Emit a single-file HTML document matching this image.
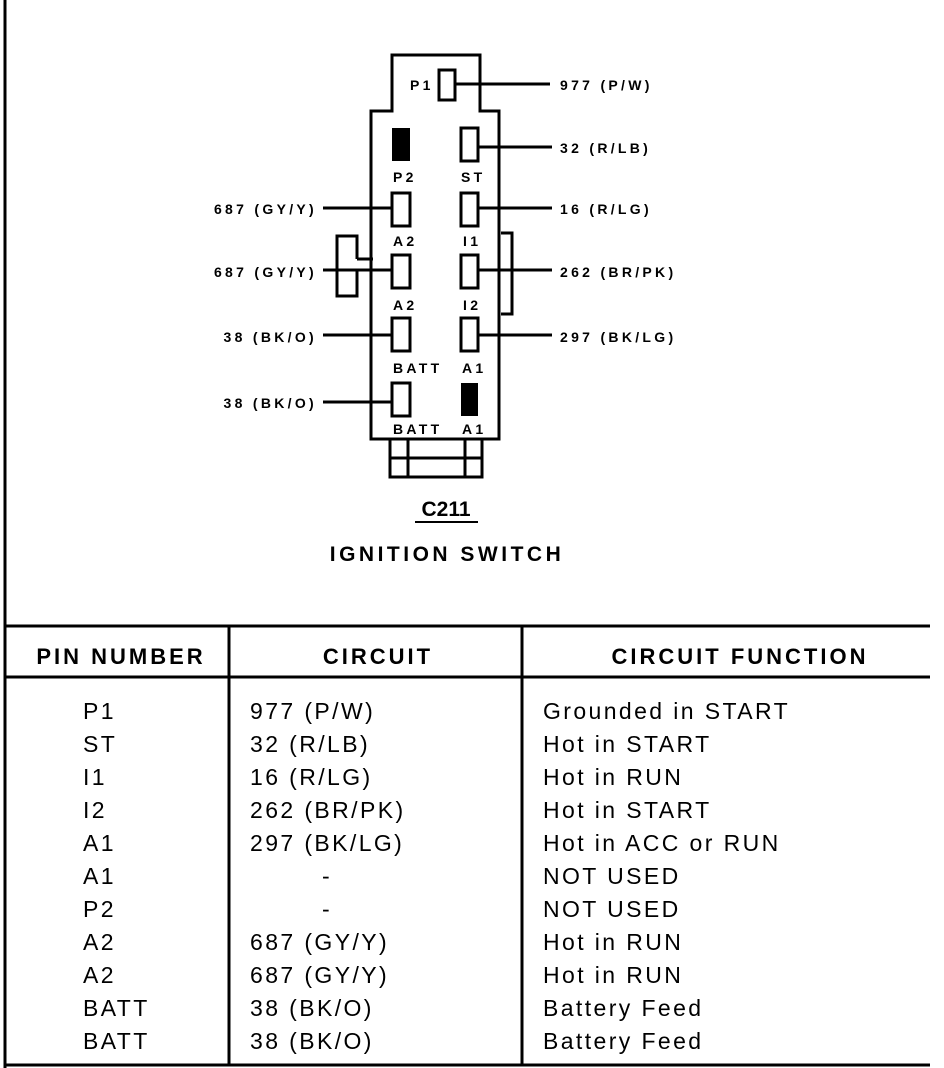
<!DOCTYPE html>
<html><head><style>
body{margin:0;background:#fff;}
svg{display:block;font-family:"Liberation Sans",Arial,sans-serif;}
</style></head><body>
<svg width="944" height="1068" viewBox="0 0 944 1068" xmlns="http://www.w3.org/2000/svg">
<g stroke="#000" fill="none" stroke-width="3">
<line x1="5" y1="0" x2="5" y2="1068"/>
<path d="M392 111 V55 H480 V111 H499 V439 H371 V111 Z"/>
<rect x="390" y="439" width="92" height="38"/>
<line x1="408" y1="439" x2="408" y2="477"/>
<line x1="465" y1="439" x2="465" y2="477"/>
<line x1="390" y1="458" x2="482" y2="458"/>
<rect x="439" y="70" width="16" height="30"/>
<rect x="461" y="128" width="17" height="33"/>
<rect x="392" y="193" width="18" height="33"/>
<rect x="461" y="193" width="17" height="33"/>
<rect x="392" y="255" width="18" height="33"/>
<rect x="461" y="255" width="17" height="33"/>
<rect x="392" y="318" width="18" height="33"/>
<rect x="461" y="318" width="17" height="33"/>
<rect x="392" y="383" width="18" height="33"/>
<line x1="455" y1="84" x2="550" y2="84"/>
<line x1="478" y1="147" x2="552" y2="147"/>
<line x1="478" y1="208" x2="552" y2="208"/>
<line x1="478" y1="270" x2="552" y2="270"/>
<line x1="478" y1="335" x2="552" y2="335"/>
<line x1="323" y1="208" x2="392" y2="208"/>
<line x1="323" y1="270" x2="392" y2="270"/>
<line x1="323" y1="335" x2="392" y2="335"/>
<line x1="323" y1="402" x2="392" y2="402"/>
<path d="M357 259 V236 H337 V296 H357 V270"/>
<path d="M357 259 H373"/>
<path d="M501 233 H512 V314 H501"/>
<line x1="5" y1="626" x2="930" y2="626"/>
<line x1="5" y1="677" x2="930" y2="677"/>
<line x1="5" y1="1065" x2="930" y2="1065"/>
<line x1="229" y1="626" x2="229" y2="1065"/>
<line x1="522" y1="626" x2="522" y2="1065"/>
<line x1="415" y1="522" x2="478" y2="522" stroke-width="2"/>
</g>
<rect x="392" y="128" width="18" height="33" fill="#000"/>
<rect x="461" y="383" width="17" height="33" fill="#000"/>
<g font-size="14" font-weight="bold" letter-spacing="3.3">
<text x="410" y="90">P1</text>
<text x="560" y="90">977 (P/W)</text>
<text x="560" y="153">32 (R/LB)</text>
<text x="560" y="214">16 (R/LG)</text>
<text x="560" y="277">262 (BR/PK)</text>
<text x="560" y="342">297 (BK/LG)</text>
<text x="317" y="214" text-anchor="end">687 (GY/Y)</text>
<text x="317" y="277" text-anchor="end">687 (GY/Y)</text>
<text x="317" y="342" text-anchor="end">38 (BK/O)</text>
<text x="317" y="408" text-anchor="end">38 (BK/O)</text>
<text x="393" y="182">P2</text><text x="461" y="182">ST</text>
<text x="393" y="246">A2</text><text x="463" y="246">I1</text>
<text x="393" y="310">A2</text><text x="463" y="310">I2</text>
<text x="393" y="373">BATT</text><text x="462" y="373">A1</text>
<text x="393" y="434">BATT</text><text x="462" y="434">A1</text>
</g>
<g font-weight="bold" font-size="21" text-anchor="middle">
<text x="446" y="516">C211</text>
<text x="447" y="561" letter-spacing="3.5">IGNITION SWITCH</text>
<g font-size="22" letter-spacing="3">
<text x="121" y="664">PIN NUMBER</text>
<text x="378" y="664">CIRCUIT</text>
<text x="740" y="664">CIRCUIT FUNCTION</text>
</g>
</g>
<g font-size="23" letter-spacing="2.4">
<g transform="translate(0,719)">
<text x="83" y="0">P1</text><text x="250" y="0">977 (P/W)</text><text x="543" y="0">Grounded in START</text>
<text x="83" y="33">ST</text><text x="250" y="33">32 (R/LB)</text><text x="543" y="33">Hot in START</text>
<text x="83" y="66">I1</text><text x="250" y="66">16 (R/LG)</text><text x="543" y="66">Hot in RUN</text>
<text x="83" y="99">I2</text><text x="250" y="99">262 (BR/PK)</text><text x="543" y="99">Hot in START</text>
<text x="83" y="132">A1</text><text x="250" y="132">297 (BK/LG)</text><text x="543" y="132">Hot in ACC or RUN</text>
<text x="83" y="165">A1</text><text x="322" y="165">-</text><text x="543" y="165">NOT USED</text>
<text x="83" y="198">P2</text><text x="322" y="198">-</text><text x="543" y="198">NOT USED</text>
<text x="83" y="231">A2</text><text x="250" y="231">687 (GY/Y)</text><text x="543" y="231">Hot in RUN</text>
<text x="83" y="264">A2</text><text x="250" y="264">687 (GY/Y)</text><text x="543" y="264">Hot in RUN</text>
<text x="83" y="297">BATT</text><text x="250" y="297">38 (BK/O)</text><text x="543" y="297">Battery Feed</text>
<text x="83" y="330">BATT</text><text x="250" y="330">38 (BK/O)</text><text x="543" y="330">Battery Feed</text>
</g></g>
</svg>
</body></html>
